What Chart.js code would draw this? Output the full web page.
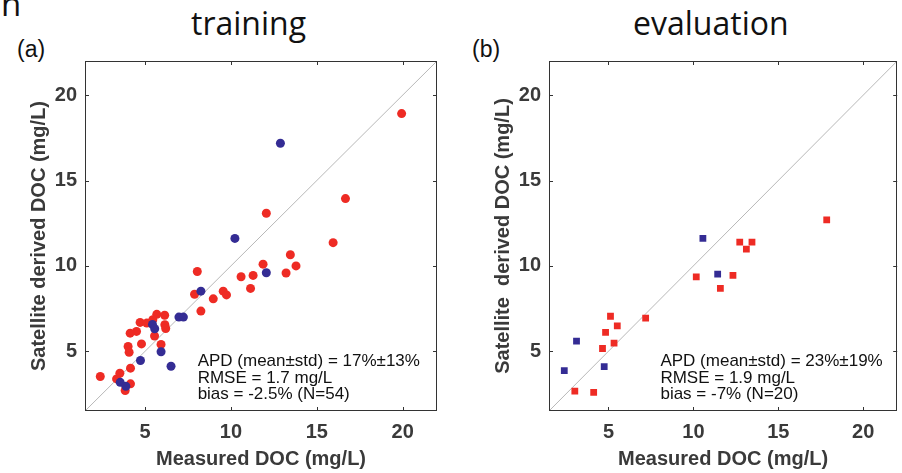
<!DOCTYPE html>
<html>
<head>
<meta charset="utf-8">
<script src="https://cdn.jsdelivr.net/npm/chart.js@4.4.1/dist/chart.umd.min.js"></script>
<style>
  html, body { margin: 0; padding: 0; background: #fff; }
  #wrap { position: relative; width: 902px; height: 473px; overflow: hidden; }
  #wrap canvas { position: absolute; top: 0; }
  .lbl { position: absolute; white-space: nowrap; color: #111; line-height: 1; }
  .ttl { font-family: 'Open Sans', Lato, sans-serif; font-size: 32px; top: 7px; }
  .pan { font-family: 'Liberation Sans', Arial, sans-serif; font-size: 23px; top: 38px; }
</style>
</head>
<body>
<div id="wrap">
  <div class="lbl" style="font-family:'Open Sans',sans-serif;font-size:33px;left:1px;top:-13px;">n</div>
  <div class="lbl ttl" style="left:191px;">training</div>
  <div class="lbl ttl" style="left:633px;">evaluation</div>
  <div class="lbl pan" style="left:17px;">(a)</div>
  <div class="lbl pan" style="left:472px;">(b)</div>
  <canvas id="chart-train" width="451" height="473" style="left:0"></canvas>
  <canvas id="chart-eval" width="451" height="473" style="left:451px"></canvas>
</div>
<script>
// axis range + ticks (both panels share them)
const AXIS_RANGE = [1.5, 22];
const TICK_VALUES = [5, 10, 15, 20];
const ONE_TO_ONE = [1.5, 22];

// (a) training - circles
const trainRedX = [2.39, 19.94, 16.67, 12.06, 15.95, 13.46, 13.79, 13.21, 11.87, 11.29, 10.59, 11.14, 8.04, 7.88, 9.55, 9.74, 8.97, 8.25, 5.68, 6.14, 6.15, 6.2, 4.71, 5.10, 5.45, 4.5, 4.13, 5.55, 4.79, 5.93, 4.01, 4.07, 4.15, 3.53, 3.34, 4.15, 3.84];
const trainRedY = [3.52, 18.92, 13.94, 13.08, 11.36, 10.65, 10.0, 9.58, 10.1, 9.44, 9.36, 8.68, 9.67, 8.34, 8.52, 8.30, 8.07, 7.35, 7.16, 7.11, 6.55, 6.33, 6.69, 6.65, 6.85, 6.16, 6.06, 5.89, 5.43, 5.4, 5.28, 4.94, 4.01, 3.71, 3.38, 3.09, 2.70];
const trainBlueX = [12.88, 10.23, 12.06, 8.25, 6.97, 7.23, 5.43, 5.56, 5.93, 6.51, 4.73, 3.55, 3.88];
const trainBlueY = [17.18, 11.61, 9.6, 8.52, 7.0, 7.0, 6.57, 6.32, 4.97, 4.12, 4.46, 3.18, 2.95];
const trainStats = ['APD (mean\u00b1std) = 17%\u00b113%', 'RMSE = 1.7 mg/L', 'bias = -2.5% (N=54)'];

// (b) evaluation - squares
const evalRedX = [17.85, 12.73, 13.45, 13.12, 12.33, 10.17, 11.59, 7.19, 5.12, 5.52, 4.83, 5.33, 4.65, 3.02, 4.13];
const evalRedY = [12.69, 11.39, 11.39, 10.98, 9.44, 9.36, 8.68, 6.94, 7.05, 6.49, 6.11, 5.47, 5.16, 2.67, 2.59];
const evalBlueX = [10.56, 11.43, 3.12, 4.75, 2.40];
const evalBlueY = [11.61, 9.52, 5.59, 4.1, 3.86];
const evalStats = ['APD (mean\u00b1std) = 23%\u00b119%', 'RMSE = 1.9 mg/L', 'bias = -7% (N=20)'];

const RED = '#ee2b24';
const BLUE = '#342c94';
const AXIS_GREY = '#3a3a3a';
const FONT = "'Liberation Sans', Arial, Helvetica, sans-serif";

function toPoints(xs, ys){ return xs.map((x, i) => ({ x, y: ys[i] })); }

// MATLAB style box with inward ticks + stats text
const boxPlugin = {
  id: 'boxPlugin',
  afterDatasetsDraw(chart, args, opts){
    const { ctx, chartArea: a, scales: { x, y } } = chart;
    ctx.save();
    ctx.strokeStyle = '#333';
    ctx.lineWidth = 1;
    ctx.strokeRect(Math.round(a.left) + 0.5, Math.round(a.top) + 0.5, Math.round(a.right - a.left) - 1, Math.round(a.bottom - a.top) - 1);
    const tl = 4;
    ctx.beginPath();
    TICK_VALUES.forEach(v => {
      const px = Math.round(x.getPixelForValue(v)) + 0.5;
      ctx.moveTo(px, a.bottom); ctx.lineTo(px, a.bottom - tl);
      ctx.moveTo(px, a.top); ctx.lineTo(px, a.top + tl);
      const py = Math.round(y.getPixelForValue(v)) + 0.5;
      ctx.moveTo(a.left, py); ctx.lineTo(a.left + tl, py);
      ctx.moveTo(a.right, py); ctx.lineTo(a.right - tl, py);
    });
    ctx.stroke();
    // stats
    ctx.fillStyle = '#111';
    ctx.font = '17px ' + FONT;
    ctx.textBaseline = 'middle';
    ctx.textAlign = 'left';
    const sx = x.getPixelForValue(opts.x);
    const sy = y.getPixelForValue(opts.y);
    (opts.lines || []).forEach((t, i) => ctx.fillText(t, sx, sy + i * 16.5));
    ctx.restore();
  }
};

function makeChart(id, { red, blue, shape, radius, yWidth, padRight, stats, yTitle }){
  const ctx = document.getElementById(id);
  return new Chart(ctx, {
    type: 'scatter',
    data: {
      datasets: [
        { label: 'blue', data: blue, backgroundColor: BLUE, borderWidth: 0, pointStyle: shape, pointRadius: radius, pointHoverRadius: radius, order: 0 },
        { label: 'red', data: red, backgroundColor: RED, borderWidth: 0, pointStyle: shape, pointRadius: radius, pointHoverRadius: radius, order: 1 },
        { type: 'line', label: '1:1', data: toPoints(ONE_TO_ONE, ONE_TO_ONE), borderColor: '#b8b8b8', borderWidth: 1, pointRadius: 0, fill: false, order: 2 }
      ]
    },
    options: {
      responsive: false,
      animation: false,
      events: [],
      layout: { padding: { top: 61, right: padRight, left: 0, bottom: 0 } },
      plugins: {
        legend: { display: false },
        tooltip: { enabled: false },
        boxPlugin: { x: 8.06, y: 4.4, lines: stats }
      },
      scales: {
        x: {
          type: 'linear', min: AXIS_RANGE[0], max: AXIS_RANGE[1],
          afterBuildTicks: s => { s.ticks = TICK_VALUES.map(v => ({ value: v })); },
          afterFit: s => { s.height = 62; },
          grid: { display: false, drawTicks: false },
          border: { display: false },
          ticks: { color: AXIS_GREY, padding: 9, font: { family: FONT, size: 20, weight: 'bold' }, maxRotation: 0 },
          title: { display: true, text: 'Measured DOC (mg/L)', color: AXIS_GREY, padding: { top: 0, bottom: 2 }, font: { family: FONT, size: 20, weight: 'bold' } }
        },
        y: {
          type: 'linear', min: AXIS_RANGE[0], max: AXIS_RANGE[1],
          afterBuildTicks: s => { s.ticks = TICK_VALUES.map(v => ({ value: v })); },
          afterFit: s => { s.width = yWidth; },
          grid: { display: false, drawTicks: false },
          border: { display: false },
          ticks: { color: AXIS_GREY, padding: 8, font: { family: FONT, size: 20, weight: 'bold' } },
          title: { display: true, text: yTitle, color: AXIS_GREY, padding: { top: yWidth - 58, bottom: 0 }, font: { family: FONT, size: 20, weight: 'bold' } }
        }
      }
    },
    plugins: [boxPlugin]
  });
}

makeChart('chart-train', {
  red: toPoints(trainRedX, trainRedY), blue: toPoints(trainBlueX, trainBlueY),
  shape: 'circle', radius: 4.5, yWidth: 85, padRight: 14, stats: trainStats,
  yTitle: 'Satellite derived DOC (mg/L)'
});
makeChart('chart-eval', {
  red: toPoints(evalRedX, evalRedY), blue: toPoints(evalBlueX, evalBlueY),
  shape: 'rect', radius: 4.8, yWidth: 98, padRight: 1, stats: evalStats,
  yTitle: 'Satellite  derived DOC (mg/L)'
});
</script>
</body>
</html>
